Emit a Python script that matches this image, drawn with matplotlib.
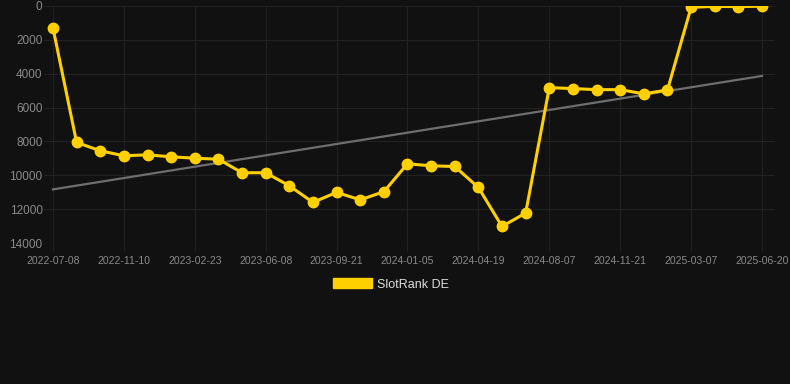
import numpy as np
import matplotlib.pyplot as plt
from matplotlib.patches import Patch

# SlotRank DE ranking (lower is better, axis inverted)
rank = [1300, 8060, 8550, 8850, 8790, 8910, 8990, 9050, 9850, 9850,
        10620, 11600, 11010, 11450, 10970, 9320, 9440, 9480, 10720, 13020,
        12230, 4820, 4880, 4940, 4940, 5190, 4960, 80, 20, 40, 10]
tick_labels = ['2022-07-08', '2022-11-10', '2023-02-23', '2023-06-08', '2023-09-21',
               '2024-01-05', '2024-04-19', '2024-08-07', '2024-11-21', '2025-03-07',
               '2025-06-20']

bg = '#111111'
grid_c = '#232323'
text_c = '#8a8a8a'
gold = '#ffd000'

plt.rcParams['font.family'] = ['Liberation Sans', 'DejaVu Sans']

fig = plt.figure(figsize=(7.9, 3.84), dpi=100, facecolor=bg)
ax = fig.add_axes([44 / 790, 141 / 384, 731 / 790, 237 / 384])
ax.set_facecolor(bg)

x = np.arange(len(rank))
# trend line (least squares fit)
k, b = np.polyfit(x, rank, 1)
ax.plot(x, k * x + b, color='#6e6e6e', lw=1.6, zorder=2)

ax.plot(x, rank, color=gold, lw=2.2, marker='o', ms=7.5, zorder=3)

ax.set_ylim(14000, 0)
ax.set_yticks(np.arange(0, 14001, 2000))
ax.set_xlim(-0.38, 30.55)
ax.set_xticks(x[::3])
ax.set_xticklabels(tick_labels)

ax.grid(True, color=grid_c, lw=0.7)
ax.tick_params(axis='x', colors=grid_c, labelcolor=text_c, labelsize=7.5, length=6, pad=3)
ax.tick_params(axis='y', length=0, labelcolor=text_c, labelsize=8.5, pad=1)
for s in ax.spines.values():
    s.set_visible(False)

fig.legend(handles=[Patch(facecolor=gold, edgecolor=gold)], labels=['SlotRank DE'],
           loc='center', bbox_to_anchor=(0.495, 0.259), frameon=False,
           handlelength=3.1, handleheight=0.85, handletextpad=0.45,
           fontsize=9, labelcolor='#dddddd')

fig.savefig('out.png', dpi=100, facecolor=bg)
